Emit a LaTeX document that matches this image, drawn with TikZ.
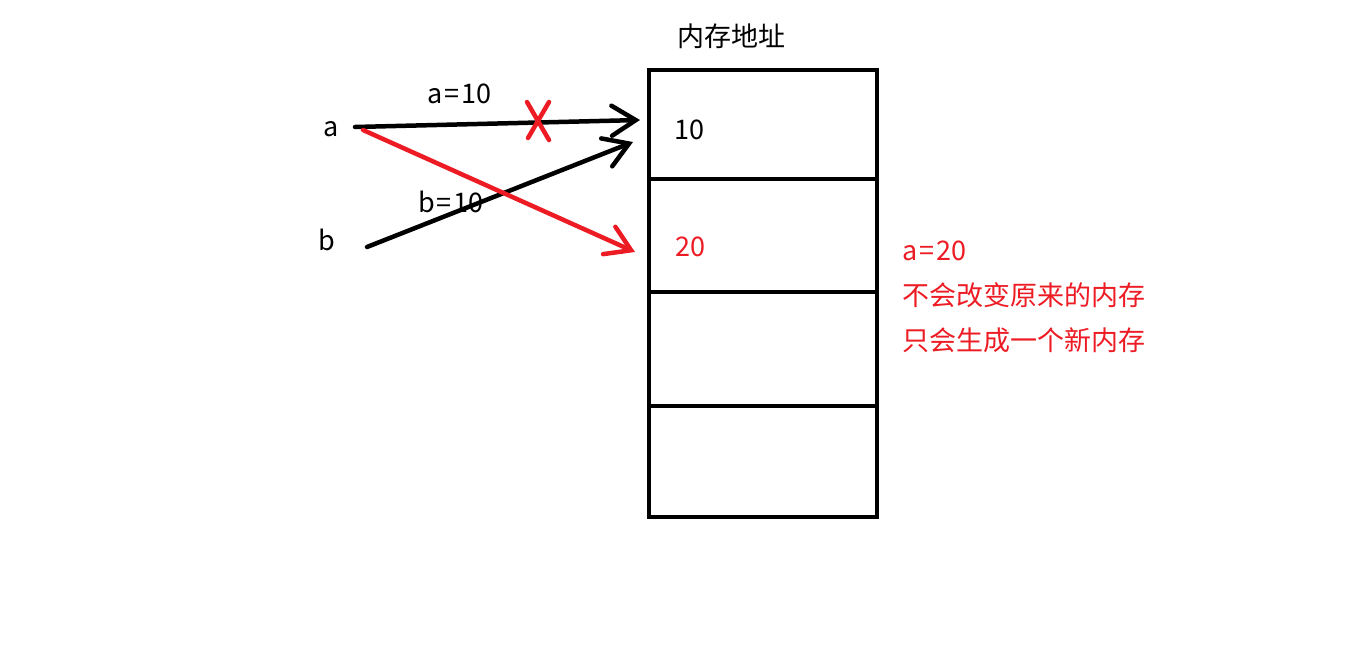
\documentclass[tikz,border=0pt]{standalone}
\usepackage{fontspec}
\setmainfont{Noto Sans CJK SC}
\usetikzlibrary{arrows.meta}
\definecolor{pred}{RGB}{237,28,36}
\newcommand{\eqs}{\kern2pt=\kern2pt}
\tikzset{
  cell/.style={draw=black, line width=4.5pt, minimum width=228pt, inner sep=0pt},
  lbl/.style={anchor=base west, inner sep=0pt, font=\fontsize{27}{32}\selectfont},
  redlbl/.style={lbl, text=pred},
  ptr/.style={line width=4.5pt, line cap=round, -{Straight Barb[length=24pt, width=30pt, line width=4.5pt, line cap=round]}},
  blackptr/.style={ptr, draw=black},
  redptr/.style={ptr, draw=pred},
  crossline/.style={draw=pred, line width=4.5pt, line cap=round}
}
\begin{document}
\begin{tikzpicture}[x=1pt,y=-1pt]
\useasboundingbox (0,0) rectangle (1359,667);
\fill[white] (0,0) rectangle (1359,667);
% memory cells
\node[cell, minimum height=109pt] (c1) at (763,124.5) {};
\node[cell, minimum height=113pt] (c2) at (763,235.5) {};
\node[cell, minimum height=114pt] (c3) at (763,349) {};
\node[cell, minimum height=111pt] (c4) at (763,461.5) {};
% texts
\node[lbl] (title) at (677,46) {内存地址};
\node[lbl] (v10) at (674,139) {10};
\node[redlbl] (v20) at (675,256) {20};
\node[redlbl] (n1) at (902,260) {a\eqs20};
\node[redlbl] (n2) at (902,305) {不会改变原来的内存};
\node[redlbl] (n3) at (902,350) {只会生成一个新内存};
\node[lbl] (va) at (323,136) {a};
\node[lbl] (vb) at (318,250) {b};
\node[lbl] (la) at (427,103) {a\eqs10};
\node[lbl] (lb) at (418,212) {b\eqs10};
% connector ends
\coordinate (as) at (355,127);
\coordinate (ae) at (640,120);
\coordinate (bs) at (367,247);
\coordinate (be) at (633,142);
\coordinate (rs) at (363,130);
\coordinate (re) at (635,252);
\draw[blackptr] (as) -- (ae);
\draw[blackptr] (bs) -- (be);
\draw[redptr] (rs) -- (re);
% cross mark
\coordinate (x1) at (527,102);
\coordinate (x2) at (549,140);
\coordinate (x3) at (549,102);
\coordinate (x4) at (528,138);
\draw[crossline] (x1) -- (x2);
\draw[crossline] (x3) -- (x4);
\end{tikzpicture}
\end{document}
